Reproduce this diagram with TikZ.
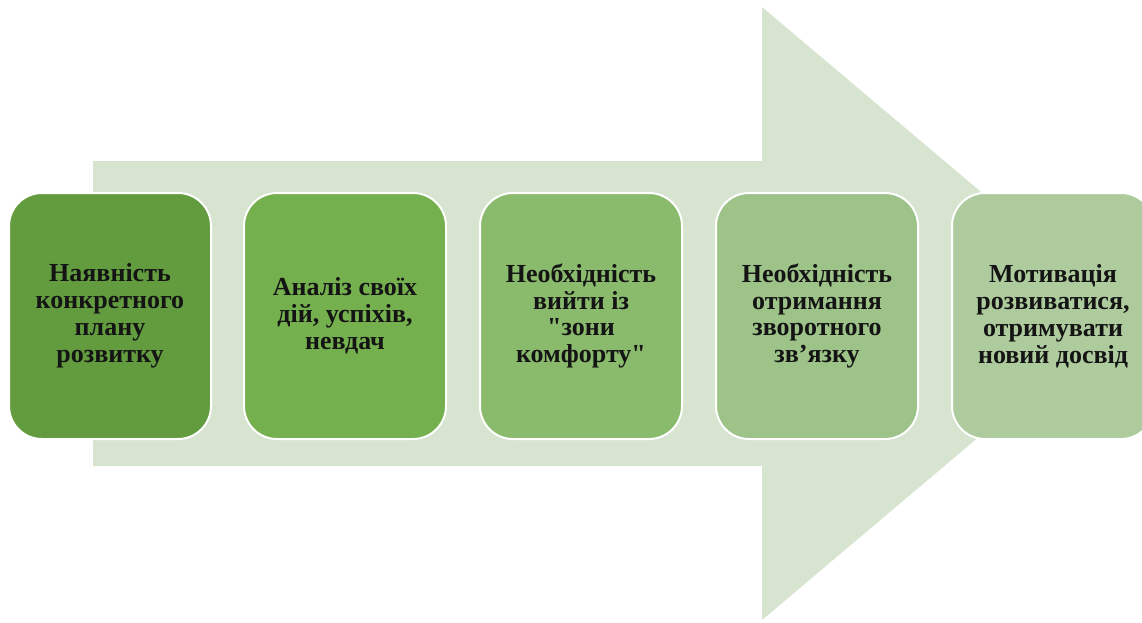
\documentclass[tikz,border=0pt]{standalone}
\usepackage{fontspec}
\setmainfont{Liberation Serif}
\font\qfont="Liberation Serif/B" at 26pt
\newcommand\sq{{\qfont\char34}}
\definecolor{arrowc}{HTML}{D7E4D0}
\definecolor{cA}{HTML}{629C3F}
\definecolor{cB}{HTML}{75B04F}
\definecolor{cC}{HTML}{8ABB6C}
\definecolor{cD}{HTML}{9DC389}
\definecolor{cE}{HTML}{AECB9E}
\begin{document}
\begin{tikzpicture}[x=1pt,y=-1pt,
  stepbox/.style={draw=white, line width=2pt, rounded corners=33pt,
    minimum width=202pt, minimum height=246pt, inner sep=4pt,
    align=center, text=black!92,
    font=\bfseries\fontsize{26}{26.9}\selectfont}]
\clip (0,0) rectangle (1142,622);
\useasboundingbox (0,0) rectangle (1142,622);
\fill[arrowc] (93,161) -- (762,161) -- (762,7) -- (1125,313.5) -- (762,620) -- (762,466) -- (93,466) -- cycle;
\node[stepbox, fill=cA] (b1) at (110,316) {Наявність\\конкретного\\плану\\розвитку};
\node[stepbox, fill=cB] (b2) at (345,316) {Аналіз своїх\\дій, успіхів,\\невдач};
\node[stepbox, fill=cC] (b3) at (581,316) {Необхідність\\вийти із\\\sq зони\\комфорту\sq};
\node[stepbox, fill=cD] (b4) at (817,316) {Необхідність\\отримання\\зворотного\\зв’язку};
\node[stepbox, fill=cE] (b5) at (1053,316) {Мотивація\\розвиватися,\\отримувати\\новий досвід};
\end{tikzpicture}
\end{document}
